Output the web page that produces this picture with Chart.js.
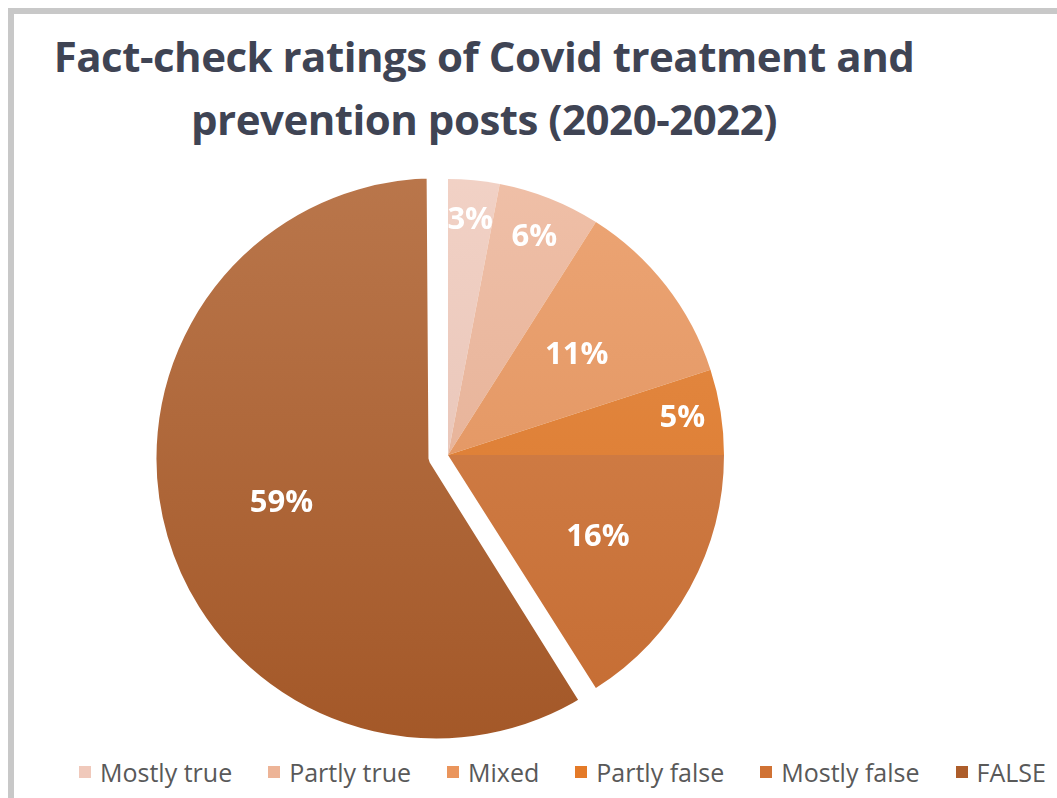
<!DOCTYPE html>
<html lang="en">
<head>
  <meta charset="UTF-8">
  <title>Fact-check ratings of Covid treatment and prevention posts</title>
  <script src="https://cdn.jsdelivr.net/npm/chart.js"></script>
  <style>
    body {
      margin: 0;
      background: #fff;
      font-family: "Open Sans", sans-serif;
      width: 1057px;
      height: 798px;
      overflow: hidden;
      position: relative;
    }

    #frame {
      position: absolute;
      left: 8px;
      top: 8px;
      right: 0;
      bottom: 0;
      border-left: 6px solid #c8c8c8;
      border-top: 6px solid #c8c8c8;
    }

    #title {
      position: absolute;
      left: 14px;
      width: 940px;
      top: 24px;
      text-align: center;
      color: #3f4454;
      font-weight: 700;
      font-size: 42px;
      line-height: 63px;
      letter-spacing: -0.5px;
    }

    #chart-container {
      position: absolute;
      left: 148px;
      top: 155px;
      width: 600px;
      height: 600px;
    }

    #legend {
      position: absolute;
      left: 79px;
      top: 755px;
      display: flex;
      align-items: center;
      color: #595959;
      font-size: 25px;
      line-height: 34px;
      white-space: nowrap;
    }

    #legend .item {
      display: flex;
      align-items: center;
      margin-right: 36px;
    }

    #legend .box {
      width: 12px;
      height: 12px;
      margin-right: 9px;
    }
  </style>
</head>
<body>
  <div id="frame"></div>
  <div id="title">Fact-check ratings of Covid treatment and<br>prevention posts (2020-2022)</div>

  <div id="chart-container">
    <canvas id="pieChart"></canvas>
  </div>

  <div id="legend"></div>

  <script>
    // ratings, clockwise from 12 o'clock
    const ratings = ["Mostly true", "Partly true", "Mixed", "Partly false", "Mostly false", "FALSE"];
    const shares = [3, 6, 11, 5, 16, 59];

    const sliceColors = ["#f0c9bb", "#edb497", "#ea955c", "#e47a28", "#d07234", "#ad5d2a"];
    // where each % label sits, as a fraction of the radius
    const labelRadius = [0.855, 0.85, 0.59, 0.86, 0.62, 0.585];

    // t > 0 mixes towards white, t < 0 towards black
    function shade(hex, t) {
      const n = parseInt(hex.slice(1), 16);
      const target = t > 0 ? 255 : 0;
      const k = Math.abs(t);
      const mix = c => Math.round(c + (target - c) * k);
      return `rgb(${mix(n >> 16)},${mix((n >> 8) & 255)},${mix(n & 255)})`;
    }

    const pctLabels = {
      id: "pctLabels",
      afterDatasetsDraw(chart) {
        const ctx = chart.ctx;
        const arcs = chart.getDatasetMeta(0).data;
        ctx.save();
        ctx.font = 'bold 31px "Open Sans"';
        ctx.fillStyle = "#fff";
        ctx.textAlign = "center";
        ctx.textBaseline = "middle";
        arcs.forEach((arc, i) => {
          const mid = (arc.startAngle + arc.endAngle) / 2;
          const shift = (arc.options.offset || 0) / 4;
          const r = arc.outerRadius * labelRadius[i] + shift;
          ctx.fillText(shares[i] + "%", arc.x + Math.cos(mid) * r, arc.y + Math.sin(mid) * r);
        });
        ctx.restore();
      }
    };

    const ctx = document.getElementById("pieChart").getContext("2d");

    new Chart(ctx, {
      type: "pie",
      data: {
        labels: ratings,
        datasets: [{
          data: shares,
          backgroundColor: function (c) {
            const base = sliceColors[c.dataIndex];
            const area = c.chart.chartArea;
            if (!area) return base;
            const g = c.chart.ctx.createLinearGradient(0, area.top, 0, area.bottom);
            g.addColorStop(0, shade(base, 0.16));
            g.addColorStop(1, shade(base, -0.06));
            return g;
          },
          borderColor: "#fff",
          borderWidth: [0, 0, 0, 0, 0, 16],
          offset: [0, 0, 0, 0, 0, 48]
        }]
      },
      options: {
        responsive: true,
        maintainAspectRatio: false,
        animation: false,
        radius: 276,
        layout: { padding: 0 },
        plugins: {
          legend: { display: false },
          tooltip: { enabled: false }
        }
      },
      plugins: [pctLabels]
    });

    // legend row under the pie
    const legendEl = document.getElementById("legend");
    ratings.forEach((name, i) => {
      const item = document.createElement("div");
      item.className = "item";
      item.innerHTML = `<span class="box" style="background:${sliceColors[i]}"></span><span>${name}</span>`;
      legendEl.appendChild(item);
    });
  </script>
</body>
</html>
